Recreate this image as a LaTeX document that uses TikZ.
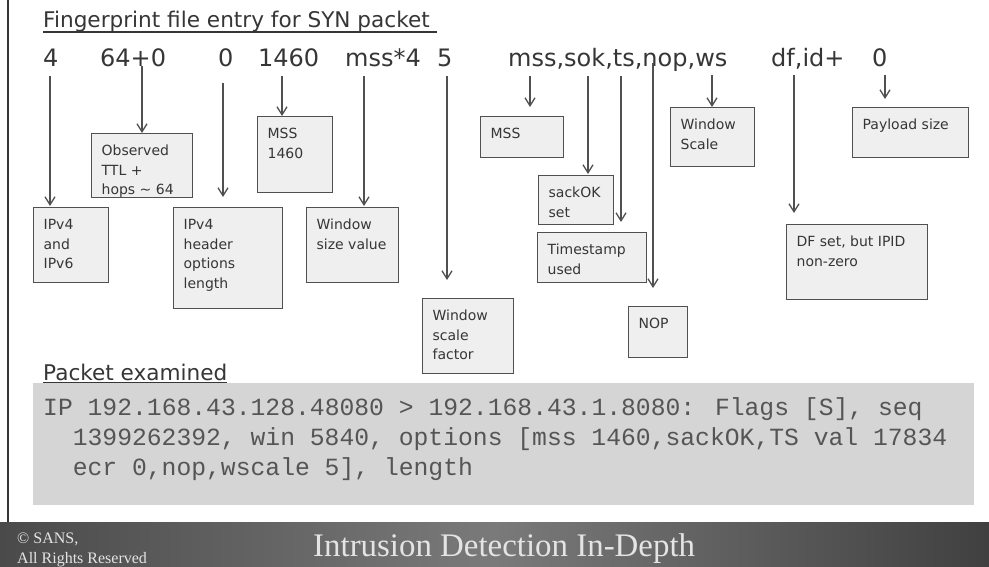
\documentclass[tikz,border=0pt]{standalone}
\usepackage{fontspec}
\setmainfont{DejaVu Sans}
\newfontfamily\codefont{Liberation Mono}
\newfontfamily\footfont{Liberation Serif}
\usetikzlibrary{arrows.meta}
\definecolor{ink}{HTML}{363636}
\definecolor{edge}{HTML}{505050}
\definecolor{boxfill}{HTML}{EFEFEF}
\definecolor{codefill}{HTML}{D5D5D5}
\definecolor{codeink}{HTML}{555555}
\definecolor{footL}{HTML}{4A4A4A}
\definecolor{footM}{HTML}{7A7A7A}
\definecolor{footR}{HTML}{404040}
\definecolor{foottext}{HTML}{E4E4E4}
\newcommand\boxtext[3]{\parbox[b][#2][t]{#1}{\raggedright\leftskip=10pt\fontsize{14}{19.5}\selectfont\rule{0pt}{22pt}#3\par}}
\tikzset{
  lbl/.style={anchor=base west, inner sep=0pt, text=ink, font=\fontsize{24}{28}\selectfont},
  head/.style={anchor=base west, inner sep=0pt, text=ink, font=\fontsize{21.6}{26}\selectfont},
  infobox/.style={anchor=north west, inner sep=0pt, draw=edge, line width=1.3pt, fill=boxfill, text=ink},
  arr/.style={draw=edge, line width=1.3pt, -{Straight Barb[length=8pt,width=10pt]}},
  foot/.style={anchor=base west, inner sep=0pt, text=foottext},
}
\begin{document}
\begin{tikzpicture}[x=1pt,y=-1pt]
\useasboundingbox (0,0) rectangle (989,567);
\fill[white] (0,0) rectangle (989,567);
% left border
\draw[line width=2pt, ink] (8,0) -- (8,522);
% headings
\node[head] (title) at (43,28) {Fingerprint file entry for SYN packet};
\draw[ink, line width=1.2pt] (title.base west) ++(0,4) -- ++(394,0);
\node[head] (pexam) at (43,380) {Packet examined};
\draw[ink, line width=1.2pt] (pexam.base west) ++(0,3) -- ++(184,0);
% top row labels
\node[lbl] (l4) at (43,67) {4};
\node[lbl] (lttl) at (100,67) {64+0};
\node[lbl] (l0) at (218,67) {0};
\node[lbl] (l1460) at (258,67) {1460};
\node[lbl] (lwin) at (345,67) {mss*4};
\node[lbl] (l5) at (437,67) {5};
\node[lbl] (lopt) at (508,67) {mss,sok,ts,nop,ws};
\node[lbl] (ldf) at (771,67) {df,id+};
\node[lbl] (lpay) at (872,67) {0};
% boxes
\node[infobox] (ipv) at (33,207) {\boxtext{75pt}{75pt}{IPv4\\and\\IPv6}};
\node[infobox] (ttl) at (91,133) {\boxtext{101pt}{64pt}{Observed\\TTL +\\hops \textasciitilde{} 64}};
\node[infobox] (hdr) at (173,207) {\boxtext{109pt}{101pt}{IPv4\\header\\options\\length}};
\node[infobox] (mssa) at (257,116) {\boxtext{75pt}{76pt}{MSS\\1460}};
\node[infobox] (win) at (306,207) {\boxtext{92pt}{75pt}{Window\\size value}};
\node[infobox] (wsf) at (422,298) {\boxtext{91pt}{75pt}{Window\\scale\\factor}};
\node[infobox] (mssb) at (480,116) {\boxtext{83pt}{41pt}{MSS}};
\node[infobox] (sack) at (538,175) {\boxtext{75pt}{49pt}{sackOK\\set}};
\node[infobox] (ts) at (537,232) {\boxtext{109pt}{50pt}{Timestamp\\used}};
\node[infobox] (nop) at (628,306) {\boxtext{59pt}{51pt}{NOP}};
\node[infobox] (wsc) at (670,107) {\boxtext{84pt}{59pt}{Window\\Scale}};
\node[infobox] (df) at (786,224) {\boxtext{141pt}{75pt}{DF set, but IPID\\non-zero}};
\node[infobox] (pay) at (852,107) {\boxtext{116pt}{50pt}{Payload size}};
% arrow start points
\coordinate (s4) at (50,76);
\coordinate (sttl) at (142,66);
\coordinate (s0) at (223,83);
\coordinate (s1460) at (282,76);
\coordinate (swin) at (364,76);
\coordinate (s5) at (447,76);
\coordinate (smss) at (530,76);
\coordinate (ssok) at (588,76);
\coordinate (sts) at (621,76);
\coordinate (snop) at (653,63);
\coordinate (sws) at (712,75);
\coordinate (sdf) at (794,75);
\coordinate (spay) at (885,75);
% arrows
\draw[arr, shorten >=1pt] (s4) -- (s4 |- ipv.north);
\draw[arr] (sttl) -- (sttl |- ttl.north);
\draw[arr, shorten >=10pt] (s0) -- (s0 |- hdr.north);
\draw[arr] (s1460) -- (s1460 |- mssa.north);
\draw[arr, shorten >=1pt] (swin) -- (swin |- win.north);
\draw[arr, shorten >=18pt] (s5) -- (s5 |- wsf.north);
\draw[arr, shorten >=9pt] (smss) -- (smss |- mssb.north);
\draw[arr, shorten >=1pt] (ssok) -- (ssok |- sack.north);
\draw[arr, shorten >=10pt] (sts) -- (sts |- ts.north);
\draw[arr, shorten >=18pt] (snop) -- (snop |- nop.north);
\draw[arr] (sws) -- (sws |- wsc.north);
\draw[arr, shorten >=11pt] (sdf) -- (sdf |- df.north);
\draw[arr, shorten >=8pt] (spay) -- (spay |- pay.north);
% packet box
\node[anchor=north west, inner sep=0pt, fill=codefill, text=codeink] (code) at (33,383)
  {\parbox[b][122pt][t]{941pt}{\raggedright\leftskip=10pt\codefont\fontsize{24.7}{30}\selectfont\rule{0pt}{32pt}IP 192.168.43.128.48080 > 192.168.43.1.8080: Flags [S], seq\\
  \hspace*{29.6pt}1399262392, win 5840, options [mss 1460,sackOK,TS val 17834\\
  \hspace*{29.6pt}ecr 0,nop,wscale 5], length\par}};
% footer
\shade[left color=footL, right color=footR, middle color=footM] (0,522) rectangle (989,567);
\node[foot, font=\footfont\fontsize{16}{18}\selectfont] (copy) at (17,543) {© SANS,};
\node[foot, font=\footfont\fontsize{16}{18}\selectfont] (rights) at (17,563) {All Rights Reserved};
\node[foot, font=\footfont\fontsize{32.9}{36}\selectfont] (course) at (313,556) {Intrusion Detection In-Depth};
\end{tikzpicture}
\end{document}
